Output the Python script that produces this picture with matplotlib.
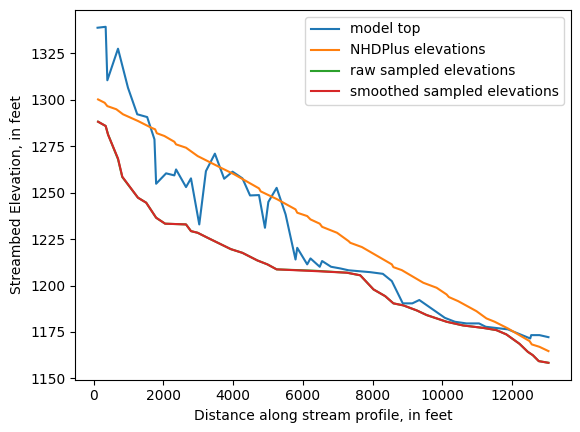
import matplotlib
matplotlib.use("Agg")
import matplotlib.pyplot as plt

# model top
top_x = [110, 343, 391, 697, 983, 1249, 1534, 1743, 1791, 2077, 2314, 2363, 2649, 2791,
         3029, 3220, 3477, 3743, 3983, 4268, 4486, 4743, 4914, 5011, 5249, 5506, 5791,
         5840, 6126, 6220, 6486, 6554, 6811, 7077, 7314, 7934, 8297, 8554, 8869, 9143,
         9343, 10077, 10363, 10697, 11057, 11249, 11886, 12526, 12554, 12791, 13049]
top_y = [1338.8, 1339.3, 1310.5, 1327.5, 1306.5, 1292.2, 1290.7, 1278.7, 1254.8, 1260.4,
         1259.3, 1262.5, 1253.0, 1257.7, 1232.9, 1261.6, 1271.0, 1257.5, 1261.3, 1257.7,
         1248.5, 1248.7, 1231.1, 1245.0, 1252.6, 1238.3, 1214.0, 1220.3, 1211.4, 1214.6,
         1210.1, 1213.2, 1210.1, 1209.2, 1208.2, 1207.2, 1206.3, 1202.4, 1190.4, 1190.4,
         1192.2, 1182.6, 1180.5, 1179.6, 1179.6, 1177.8, 1176.4, 1171.5, 1173.3, 1173.3,
         1172.2]

# NHDPlus elevations
nhd_x = [125, 314, 391, 649, 840, 1269, 1649, 1763, 1811, 2029, 2314, 2363, 2649, 2983,
         3269, 3649, 4029, 4743, 4791, 5269, 5791, 5840, 6126, 6220, 6486, 6554, 6983,
         7314, 7363, 7697, 8029, 8554, 8600, 8840, 9457, 9840, 10126, 10191, 10457, 10983,
         11269, 11506, 11886, 12506, 12571, 12791, 13049]
nhd_y = [1300.2, 1298.4, 1296.6, 1294.9, 1292.2, 1288.6, 1285.0, 1284.1, 1282.0, 1280.5,
         1277.4, 1276.0, 1274.2, 1269.7, 1267.0, 1263.4, 1259.9, 1252.3, 1250.7, 1246.4,
         1241.0, 1239.2, 1237.4, 1235.6, 1233.3, 1231.6, 1228.4, 1223.9, 1223.0, 1220.7,
         1217.1, 1211.4, 1209.9, 1208.3, 1201.5, 1198.8, 1195.2, 1193.8, 1191.6, 1186.2,
         1182.3, 1180.5, 1176.9, 1170.1, 1168.3, 1167.0, 1164.7]

# raw sampled elevations
raw_x = [125, 343, 411, 697, 820, 1269, 1506, 1791, 2049, 2649, 2791, 2983, 3269, 3934,
         4268, 4697, 4983, 5249, 6314, 7269, 7649, 8029, 8363, 8600, 8886, 9269, 9554,
         10126, 10600, 11171, 11554, 11840, 12220, 12457, 12600, 12771, 13049]
raw_y = [1288.2, 1285.9, 1281.4, 1268.0, 1258.4, 1247.3, 1244.6, 1236.5, 1233.3, 1232.9,
         1229.3, 1228.4, 1225.7, 1219.6, 1217.6, 1213.5, 1211.4, 1208.7, 1208.0, 1206.9,
         1205.5, 1197.9, 1194.3, 1190.4, 1189.3, 1186.6, 1184.1, 1180.5, 1178.5, 1177.2,
         1176.0, 1173.7, 1168.6, 1164.3, 1162.5, 1159.3, 1158.4]

# smoothed sampled elevations
smooth_x = [125, 343, 411, 697, 820, 1269, 1506, 1791, 2049, 2649, 2791, 2983, 3269, 3934,
            4268, 4697, 4983, 5249, 6314, 7269, 7649, 8029, 8363, 8600, 8886, 9269, 9554,
            10126, 10600, 11171, 11554, 11840, 12220, 12457, 12600, 12771, 13049]
smooth_y = [1288.2, 1285.9, 1281.2, 1268.4, 1258.6, 1247.3, 1244.6, 1236.5, 1233.3, 1232.9,
            1229.3, 1228.4, 1225.7, 1219.6, 1217.6, 1213.5, 1211.4, 1208.7, 1207.8, 1206.9,
            1205.5, 1197.9, 1194.3, 1190.4, 1189.3, 1186.6, 1184.1, 1180.5, 1178.5, 1177.2,
            1176.0, 1173.7, 1168.6, 1164.3, 1162.5, 1159.3, 1158.4]

fig = plt.figure(figsize=(5.8, 4.32), dpi=100)
ax = fig.add_axes([75 / 580, (432 - 379.6) / 432, 496 / 580, 369.6 / 432])
ax.plot(top_x, top_y, label="model top")
ax.plot(nhd_x, nhd_y, label="NHDPlus elevations")
ax.plot(raw_x, raw_y, label="raw sampled elevations")
ax.plot(smooth_x, smooth_y, label="smoothed sampled elevations")
ax.set_xlabel("Distance along stream profile, in feet")
ax.set_ylabel("Streambed Elevation, in feet")
ax.legend(loc="upper right")
fig.savefig("out.png", dpi=100)
